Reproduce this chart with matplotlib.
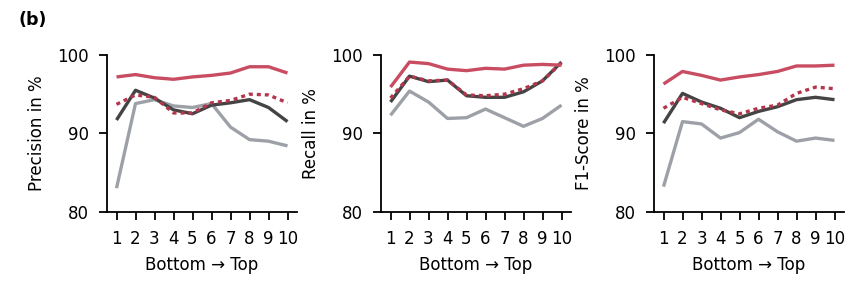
import matplotlib
matplotlib.use("Agg")
import matplotlib.pyplot as plt

# x positions (layers, bottom to top)
layers = [1, 2, 3, 4, 5, 6, 7, 8, 9, 10]

# Precision in %
prec_red = [97.2, 97.5, 97.1, 96.9, 97.2, 97.4, 97.7, 98.5, 98.5, 97.7]
prec_dot = [93.7, 94.9, 94.6, 92.6, 92.6, 93.9, 94.2, 95.0, 94.9, 93.9]
prec_dark = [91.7, 95.5, 94.5, 93.0, 92.5, 93.6, 93.9, 94.3, 93.3, 91.5]
prec_grey = [83.0, 93.8, 94.3, 93.5, 93.3, 93.8, 90.8, 89.2, 89.0, 88.4]

# Recall in %
rec_red = [95.9, 99.1, 98.9, 98.2, 98.0, 98.3, 98.2, 98.7, 98.8, 98.7]
rec_dot = [94.5, 97.3, 96.7, 96.8, 94.9, 94.8, 95.0, 95.7, 96.7, 99.0]
rec_dark = [94.0, 97.3, 96.6, 96.8, 94.8, 94.6, 94.6, 95.3, 96.7, 99.1]
rec_grey = [92.3, 95.4, 94.0, 91.9, 92.0, 93.1, 92.0, 90.9, 91.9, 93.6]

# F1-Score in %
f1_red = [96.3, 97.9, 97.4, 96.8, 97.2, 97.5, 97.9, 98.6, 98.6, 98.7]
f1_dot = [93.2, 94.6, 93.8, 93.0, 92.5, 93.2, 93.6, 95.1, 95.9, 95.7]
f1_dark = [91.3, 95.1, 94.0, 93.2, 92.0, 92.8, 93.4, 94.3, 94.6, 94.3]
f1_grey = [83.2, 91.5, 91.2, 89.4, 90.1, 91.8, 90.2, 89.0, 89.4, 89.1]

ylabels = ["Precision in %", "Recall in %", "F1-Score in %"]
panels = [
    (prec_red, prec_dot, prec_dark, prec_grey),
    (rec_red, rec_dot, rec_dark, rec_grey),
    (f1_red, f1_dot, f1_dark, f1_grey),
]

RED = "#c84d62"
RED_DOT = "#b3364c"
DARK = "#444444"
GREY = "#9da1a7"

plt.rcParams["font.size"] = 12

fig = plt.figure(figsize=(8.64, 2.93), dpi=100)
lefts = [107 / 864, 381 / 864, 654 / 864]
width = 190 / 864
bottom = 1 - 211.7 / 293
height = (211.7 - 55) / 293

for left, ylab, (r, d, k, g) in zip(lefts, ylabels, panels):
    ax = fig.add_axes([left, bottom, width, height])
    ax.plot(layers, g, color=GREY, lw=2.4, solid_capstyle="butt")
    ax.plot(layers, k, color=DARK, lw=2.4, solid_capstyle="butt")
    ax.plot(layers, d, color=RED_DOT, lw=2.4, ls=(0, (1.2, 1.2)))
    ax.plot(layers, r, color=RED, lw=2.4, solid_capstyle="butt")
    ax.set_xlim(0.5, 10.5)
    ax.set_ylim(80, 100)
    ax.set_xticks(layers)
    ax.set_yticks([80, 90, 100])
    ax.set_ylabel(ylab, labelpad=8)
    ax.set_xlabel("Bottom \u2192 Top", labelpad=6)
    ax.spines["top"].set_visible(False)
    ax.spines["right"].set_visible(False)
    ax.tick_params(direction="out", length=6, width=1.3, pad=7)
    for s in ax.spines.values():
        s.set_linewidth(1.3)

fig.text(0.021, 0.915, "(b)", fontweight="bold", fontsize=12.5)

fig.savefig("out.png", dpi=100)
